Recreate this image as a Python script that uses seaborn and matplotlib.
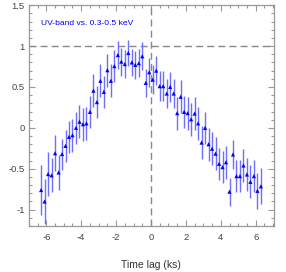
import numpy as np
import pandas as pd
import matplotlib
matplotlib.use('Agg')
import matplotlib.pyplot as plt
import seaborn as sns
from matplotlib.ticker import MultipleLocator

# time lag bins (ks) and cross-correlation values
lag = [-6.3, -6.1, -5.9, -5.7, -5.5, -5.3, -5.1, -4.9, -4.7, -4.5, -4.3, -4.1,
       -3.9, -3.7, -3.5, -3.3, -3.1, -2.9, -2.7, -2.5, -2.3, -2.1, -1.9, -1.7,
       -1.5, -1.3, -1.1, -0.9, -0.7, -0.5, -0.3, -0.1, 0.1, 0.3, 0.5, 0.7,
       0.9, 1.1, 1.3, 1.5, 1.7, 1.9, 2.1, 2.3, 2.5, 2.7, 2.9, 3.1,
       3.3, 3.5, 3.7, 3.9, 4.1, 4.3, 4.5, 4.7, 4.9, 5.1, 5.3, 5.5,
       5.7, 5.9, 6.1, 6.3]
ccf = [-0.76, -0.90, -0.565, -0.58, -0.31, -0.545, -0.32, -0.22, -0.11, -0.09, 0.0, 0.075,
       0.045, 0.055, 0.195, 0.455, 0.315, 0.575, 0.44, 0.705, 0.575, 0.755, 0.89, 0.81,
       0.78, 0.915, 0.80, 0.77, 0.79, 0.875, 0.55, 0.68, 0.59, 0.70, 0.51, 0.51,
       0.42, 0.50, 0.42, 0.18, 0.38, 0.195, 0.18, 0.105, 0.175, 0.055, -0.18, 0.0,
       -0.20, -0.255, -0.315, -0.44, -0.48, -0.42, -0.78, -0.325, -0.59, -0.59, -0.46, -0.57,
       -0.66, -0.59, -0.77, -0.715]
ccf_err = [0.30, 0.27, 0.27, 0.21, 0.22, 0.21, 0.19, 0.20, 0.20, 0.20, 0.20, 0.20,
           0.20, 0.20, 0.20, 0.20, 0.20, 0.20, 0.20, 0.20, 0.20, 0.20, 0.17, 0.17,
           0.17, 0.16, 0.17, 0.17, 0.17, 0.17, 0.17, 0.18, 0.18, 0.18, 0.18, 0.18,
           0.18, 0.18, 0.18, 0.20, 0.20, 0.20, 0.20, 0.20, 0.20, 0.20, 0.20, 0.20,
           0.20, 0.20, 0.20, 0.20, 0.20, 0.20, 0.17, 0.18, 0.20, 0.20, 0.20, 0.20,
           0.20, 0.20, 0.22, 0.22]

df = pd.DataFrame({'lag': lag, 'ccf': ccf, 'err': ccf_err})

sns.set_style('ticks')
plt.rcParams.update({
    'font.family': ['Liberation Sans', 'DejaVu Sans'],
    'font.size': 6.8,
    'axes.edgecolor': '#999999',
    'axes.linewidth': 0.9,
    'xtick.color': '#999999',
    'ytick.color': '#999999',
    'xtick.labelcolor': '#444444',
    'ytick.labelcolor': '#444444',
})

fig = plt.figure(figsize=(2.86, 2.72), dpi=100)
ax = fig.add_axes([0.101, 0.169, 0.857, 0.812])

# reference lines
ax.axhline(1, color='#888888', lw=1.0, ls=(0, (5, 3)), zorder=1)
ax.axvline(0, color='#888888', lw=1.0, ls=(0, (5, 3)), zorder=1)

# error bars
ax.vlines(df['lag'], df['ccf'] - df['err'], df['ccf'] + df['err'],
          color='#6f6fff', lw=1.0, zorder=2)
sns.scatterplot(data=df, x='lag', y='ccf', ax=ax, marker='^', s=9,
                color='#0000ff', edgecolor='none', zorder=3, legend=False)

ax.set_xlim(-7, 7.05)
ax.set_ylim(-1.2, 1.5)
ax.xaxis.set_major_locator(MultipleLocator(2))
ax.xaxis.set_minor_locator(MultipleLocator(0.5))
ax.yaxis.set_major_locator(MultipleLocator(0.5))
ax.yaxis.set_minor_locator(MultipleLocator(0.1))
ax.tick_params(which='both', direction='in', top=True, right=True, width=0.8)
ax.tick_params(which='major', length=4)
ax.tick_params(which='minor', length=2)
ax.tick_params(axis='x', which='major', pad=5)
ax.tick_params(axis='y', which='major', pad=3)

ax.xaxis.set_major_formatter(plt.FuncFormatter(lambda v, p: f'{v:g}'.replace('\u2212', '-')))
ax.yaxis.set_major_formatter(plt.FuncFormatter(lambda v, p: f'{v:g}'.replace('\u2212', '-')))

ax.set_xlabel('Time lag (ks)', fontsize=7.5, color='#333333', labelpad=13)
ax.set_ylabel('')
ax.text(-6.3, 1.28, 'UV-band vs. 0.3-0.5 keV', color='#0000ff', fontsize=6.1,
        va='center', ha='left')

for s in ax.spines.values():
    s.set_visible(True)

fig.savefig('out.png', dpi=100)
